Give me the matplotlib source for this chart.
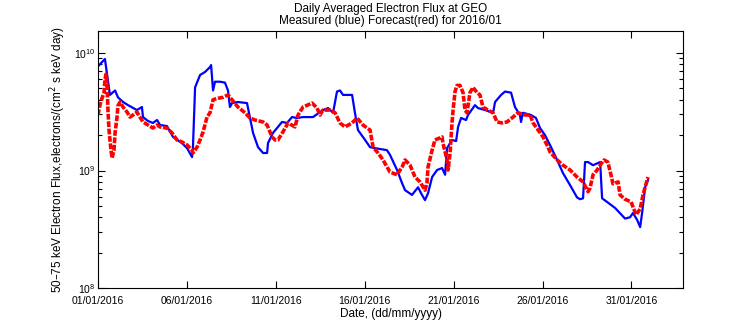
import matplotlib
matplotlib.use("Agg")
import matplotlib.pyplot as plt
from matplotlib.ticker import LogLocator, FixedLocator, NullFormatter

plt.rcParams["font.family"] = ["Liberation Sans", "DejaVu Sans"]

# measured flux (blue): day of January 2016, electrons/(cm^2 s keV day)
meas_day = [1.00, 1.39, 1.67, 1.96, 2.12, 2.41, 2.69, 3.19, 3.47, 3.53, 3.81, 4.09,
            4.32, 4.49, 4.88, 5.22, 5.72, 6.01, 6.29, 6.34, 6.46, 6.74, 7.02, 7.30,
            7.36, 7.47, 7.58, 7.86, 8.14, 8.31, 8.42, 8.54, 8.87, 9.38, 9.55, 9.72,
            10.00, 10.28, 10.51, 10.56, 10.84, 11.07, 11.35, 11.63, 11.91, 12.19,
            12.53, 13.09, 13.65, 13.94, 14.22, 14.44, 14.61, 14.78, 15.29, 15.45,
            15.62, 16.02, 16.30, 16.58, 17.25, 17.42, 17.82, 18.10, 18.27, 18.66,
            19.00, 19.17, 19.39, 19.56, 19.79, 20.07, 20.35, 20.52, 20.63, 20.91,
            21.14, 21.25, 21.42, 21.70, 21.81, 22.20, 22.37, 22.77, 23.22, 23.33,
            23.67, 23.89, 24.23, 24.45, 24.73, 24.79, 24.90, 25.35, 25.63, 25.86,
            26.14, 26.42, 26.82, 27.15, 27.55, 27.94, 28.11, 28.28, 28.39, 28.56,
            28.84, 29.24, 29.35, 29.63, 30.08, 30.64, 30.92, 31.09, 31.32, 31.49,
            31.60, 31.77, 31.93]
meas_flux = [7.7e9, 8.9e9, 4.4e9, 4.8e9, 4.2e9, 3.83e9, 3.6e9, 3.27e9, 3.47e9, 2.85e9,
             2.64e9, 2.54e9, 2.69e9, 2.44e9, 2.39e9, 1.93e9, 1.71e9, 1.55e9, 1.30e9,
             1.58e9, 5.1e9, 6.5e9, 6.9e9, 7.6e9, 7.9e9, 4.8e9, 5.7e9, 5.7e9, 5.6e9,
             4.8e9, 3.47e9, 3.75e9, 3.83e9, 3.75e9, 2.8e9, 2.09e9, 1.58e9, 1.41e9,
             1.41e9, 1.71e9, 2.09e9, 2.3e9, 2.59e9, 2.54e9, 2.85e9, 2.8e9, 2.85e9,
             2.85e9, 3.27e9, 3.4e9, 3.1e9, 4.7e9, 4.8e9, 4.4e9, 4.4e9, 3.1e9, 2.21e9,
             1.82e9, 1.58e9, 1.55e9, 1.49e9, 1.36e9, 1.01e9, 7.8e8, 6.8e8, 6.2e8,
             7.2e8, 6.4e8, 5.6e8, 6.4e8, 8.8e8, 1.01e9, 1.05e9, 9.2e8, 1.55e9, 1.82e9,
             1.78e9, 2.35e9, 2.8e9, 2.69e9, 2.97e9, 3.6e9, 3.4e9, 3.27e9, 3.1e9,
             3.83e9, 4.4e9, 4.7e9, 4.6e9, 3.47e9, 2.97e9, 2.59e9, 3.1e9, 2.97e9,
             2.8e9, 2.3e9, 2.0e9, 1.65e9, 1.23e9, 9.5e8, 7.5e8, 5.9e8, 5.7e8, 5.8e8,
             1.18e9, 1.18e9, 1.11e9, 1.18e9, 5.8e8, 5.4e8, 4.8e8, 3.9e8, 4.0e8,
             4.35e8, 3.8e8, 3.3e8, 4.35e8, 7.2e8, 8.3e8]

# forecast flux (red)
fcst_day = [1.00, 1.11, 1.22, 1.34, 1.39, 1.45, 1.51, 1.56, 1.62, 1.73, 1.79, 1.90,
            1.96, 2.07, 2.12, 2.24, 2.41, 2.63, 2.80, 2.97, 3.19, 3.36, 3.53, 3.81,
            4.09, 4.32, 4.49, 4.88, 5.16, 5.44, 5.72, 6.01, 6.29, 6.34, 6.57, 6.74,
            6.91, 7.13, 7.30, 7.47, 7.69, 8.03, 8.31, 8.54, 8.87, 9.27, 9.55, 9.83,
            10.28, 10.51, 10.79, 10.96, 11.12, 11.40, 11.69, 12.08, 12.25, 12.53,
            13.04, 13.32, 13.49, 13.65, 14.05, 14.33, 14.61, 14.89, 15.29, 15.57,
            15.90, 16.30, 16.47, 16.75, 17.03, 17.42, 17.82, 18.10, 18.27, 18.55,
            18.83, 19.11, 19.39, 19.50, 19.56, 19.79, 19.95, 20.35, 20.40, 20.63,
            20.69, 20.80, 20.91, 20.97, 21.08, 21.19, 21.36, 21.53, 21.64, 21.75,
            21.92, 22.09, 22.32, 22.48, 22.65, 22.93, 23.22, 23.44, 23.72, 24.00,
            24.34, 24.62, 25.02, 25.30, 25.47, 25.75, 26.03, 26.31, 26.42, 26.82,
            27.15, 27.55, 27.94, 28.28, 28.56, 28.67, 28.84, 29.07, 29.29, 29.46,
            29.67, 29.85, 29.96, 30.25, 30.36, 30.64, 30.98, 31.26, 31.49, 31.65,
            31.93]
fcst_flux = [2.97e9, 3.6e9, 4.1e9, 4.6e9, 5.9e9, 6.6e9, 5.3e9, 3.27e9, 2.21e9, 1.49e9,
             1.28e9, 1.49e9, 2.09e9, 2.85e9, 3.55e9, 3.83e9, 3.47e9, 3.15e9, 2.85e9,
             2.97e9, 3.15e9, 2.85e9, 2.59e9, 2.44e9, 2.3e9, 2.44e9, 2.35e9, 2.3e9,
             2.09e9, 1.82e9, 1.75e9, 1.65e9, 1.49e9, 1.41e9, 1.58e9, 1.82e9, 2.13e9,
             2.85e9, 3.1e9, 4.0e9, 4.1e9, 4.2e9, 4.4e9, 4.0e9, 3.47e9, 3.1e9, 2.8e9,
             2.69e9, 2.59e9, 2.44e9, 1.93e9, 1.82e9, 1.82e9, 2.13e9, 2.54e9, 2.35e9,
             2.97e9, 3.47e9, 3.75e9, 3.4e9, 2.97e9, 3.27e9, 3.27e9, 3.1e9, 2.54e9,
             2.35e9, 2.54e9, 2.8e9, 2.44e9, 2.21e9, 1.58e9, 1.41e9, 1.23e9, 9.7e8,
             9.2e8, 1.07e9, 1.23e9, 1.11e9, 8.8e8, 8.0e8, 6.8e8, 7.8e8, 1.07e9,
             1.49e9, 1.82e9, 1.93e9, 1.71e9, 1.23e9, 1.01e9, 1.41e9, 2.54e9, 3.27e9,
             4.7e9, 5.3e9, 5.3e9, 4.6e9, 3.27e9, 3.1e9, 4.6e9, 5.1e9, 4.6e9, 4.4e9,
             3.47e9, 3.27e9, 3.1e9, 2.59e9, 2.54e9, 2.59e9, 2.85e9, 3.1e9, 2.97e9,
             2.97e9, 2.54e9, 2.21e9, 1.93e9, 1.58e9, 1.44e9, 1.23e9, 1.11e9, 1.01e9,
             8.8e8, 8.0e8, 6.6e8, 7.1e8, 9.2e8, 1.01e9, 1.14e9, 1.23e9, 1.18e9,
             9.2e8, 7.7e8, 8.0e8, 6.2e8, 5.7e8, 5.4e8, 4.2e8, 4.7e8, 6.2e8, 8.8e8]

tick_days = [1, 6, 11, 16, 21, 26, 31]
tick_labels = ["01/01/2016", "06/01/2016", "11/01/2016", "16/01/2016",
               "21/01/2016", "26/01/2016", "31/01/2016"]

fig = plt.figure(figsize=(7.56, 3.24), dpi=100)
ax = fig.add_axes([98 / 756, 1 - 288 / 324, 585 / 756, 257 / 324])

ax.plot(meas_day, meas_flux, color="#0000ff", linewidth=1.6)
ax.plot(fcst_day, fcst_flux, color="#ff0000", linewidth=2.6,
        linestyle=(0, (1.6, 0.45)), dash_capstyle="butt")

ax.set_yscale("log")
ax.set_xlim(1, 33.9)
ax.set_ylim(1e8, 1.54e10)
ax.xaxis.set_major_locator(FixedLocator(tick_days))
ax.set_xticklabels(tick_labels)
ax.yaxis.set_major_locator(LogLocator(base=10, numticks=10))
ax.yaxis.set_minor_locator(LogLocator(base=10, subs=range(2, 10), numticks=10))
ax.yaxis.set_minor_formatter(NullFormatter())
ax.tick_params(which="both", direction="in", top=True, right=True,
               labelsize=7.5, width=0.8, pad=2)
ax.tick_params(axis="x", which="major", pad=6)
ax.tick_params(which="major", length=5)
ax.tick_params(which="minor", length=3)
for s in ax.spines.values():
    s.set_linewidth(0.8)

ax.set_title("Daily Averaged Electron Flux at GEO\nMeasured (blue) Forecast(red) for 2016/01",
             fontsize=8.5, linespacing=1.0, pad=5)
ax.set_xlabel("Date, (dd/mm/yyyy)", fontsize=8.5, labelpad=1)
ax.set_ylabel("50\u201375 keV Electron Flux,electrons/(cm$^2$ s keV day)",
              fontsize=8.5, labelpad=4)

fig.savefig("out.png", dpi=100)
